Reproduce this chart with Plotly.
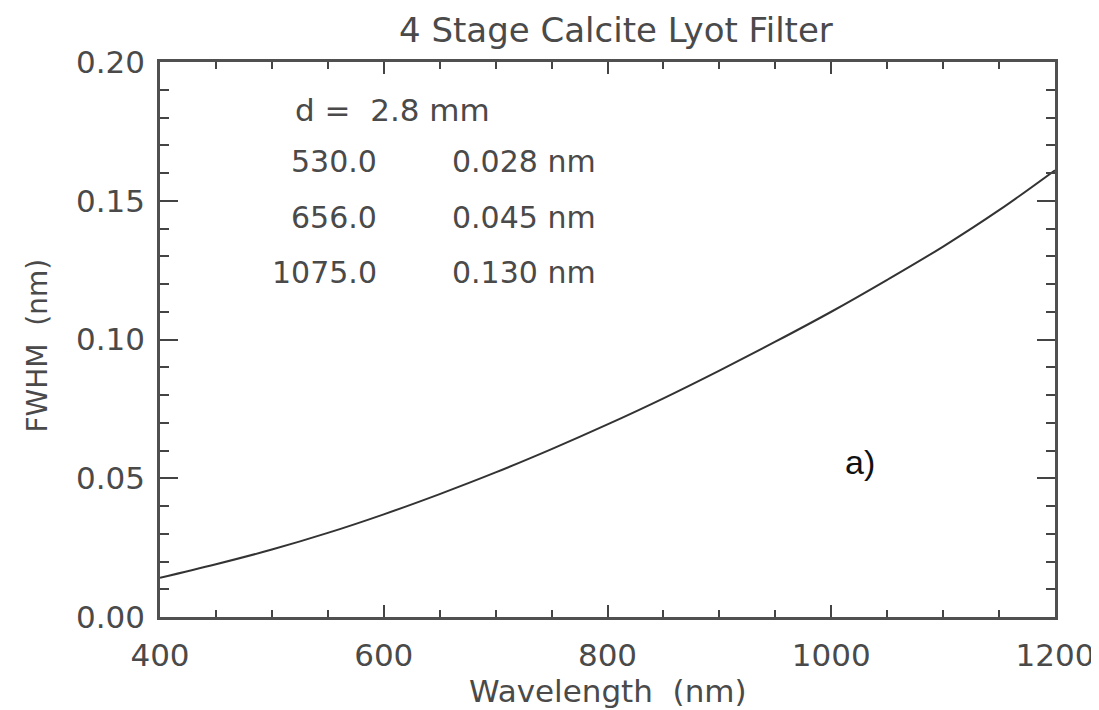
import plotly.graph_objects as go

wavelength = [400, 450, 500, 550, 600, 650, 700, 750, 800, 850, 900, 950, 1000, 1050, 1100, 1150, 1200]
fwhm = [0.0141, 0.0190, 0.0243, 0.0303, 0.0370, 0.0443, 0.0521, 0.0605, 0.0694, 0.0788,
        0.0888, 0.0992, 0.1100, 0.1215, 0.1335, 0.1466, 0.1610]

x_ticks = [400, 600, 800, 1000, 1200]
y_ticks = [0.00, 0.05, 0.10, 0.15, 0.20]
y_tick_labels = ["0.00", "0.05", "0.10", "0.15", "0.20"]

title_text = "4 Stage Calcite Lyot Filter"
x_title = "Wavelength  (nm)"
y_title = "FWHM  (nm)"
thickness_label = "d =  2.8 mm"
table_wl = ["530.0", "656.0", "1075.0"]
table_fwhm = ["0.028 nm", "0.045 nm", "0.130 nm"]
panel_label = "a)"

FONT = "DejaVu Sans"
GREY = "#4a4a4a"
TICK = "#444444"

fig = go.Figure()
fig.add_trace(go.Scatter(x=wavelength, y=fwhm, mode="lines",
                         line=dict(color="#333333", width=2, shape="spline"),
                         showlegend=False))

axis_common = dict(showline=True, linecolor="#505050", linewidth=2.5, mirror="allticks",
                   ticks="inside", tickcolor=TICK, tickwidth=2, showgrid=False,
                   zeroline=False, tickfont=dict(family=FONT, size=31, color=GREY))

fig.update_xaxes(range=[400, 1200], tickvals=x_ticks, ticklen=12,
                 minor=dict(ticks="inside", dtick=50, ticklen=7, tickcolor=TICK, tickwidth=2, showgrid=False),
                 ticklabelstandoff=9, **axis_common)
fig.update_yaxes(range=[0, 0.20], tickvals=y_ticks, ticktext=y_tick_labels, ticklen=18,
                 minor=dict(ticks="inside", dtick=0.01, ticklen=9, tickcolor=TICK, tickwidth=2, showgrid=False),
                 ticklabelstandoff=6, **axis_common)

annotations = [
    dict(xref="paper", yref="paper", x=0.5, y=1.0, xshift=8, yshift=32, text=title_text,
         showarrow=False, font=dict(family=FONT, size=34, color=GREY), xanchor="center", yanchor="middle"),
    dict(xref="paper", yref="paper", x=0.5, y=0.0, yshift=-74, text=x_title,
         showarrow=False, font=dict(family=FONT, size=31, color=GREY), xanchor="center", yanchor="middle"),
    dict(xref="paper", yref="paper", x=0.0, y=0.5, xshift=-123, yshift=-6, text=y_title, textangle=-90,
         showarrow=False, font=dict(family=FONT, size=28, color=GREY), xanchor="center", yanchor="middle"),
    dict(xref="x", yref="y", x=519, y=0.1827, text=thickness_label, showarrow=False,
         font=dict(family=FONT, size=31, color=GREY), xanchor="left", yanchor="middle"),
    dict(xref="x", yref="y", x=1026, y=0.0559, text=panel_label, showarrow=False,
         font=dict(family="Liberation Sans", size=34, color="#111111"), xanchor="center", yanchor="middle"),
]
rows_y = [0.164, 0.1438, 0.124]
for wl, fw, yy in zip(table_wl, table_fwhm, rows_y):
    annotations.append(dict(xref="x", yref="y", x=596, y=yy, text=wl, showarrow=False,
                            font=dict(family=FONT, size=30, color=GREY), xanchor="right", yanchor="middle"))
    annotations.append(dict(xref="x", yref="y", x=659, y=yy, text=fw, showarrow=False,
                            font=dict(family=FONT, size=30, color=GREY), xanchor="left", yanchor="middle"))

fig.update_layout(width=1091, height=702, margin=dict(l=152, r=44, t=54, b=93, autoexpand=False),
                  plot_bgcolor="white", paper_bgcolor="white", annotations=annotations)

fig.write_html("out.html")
